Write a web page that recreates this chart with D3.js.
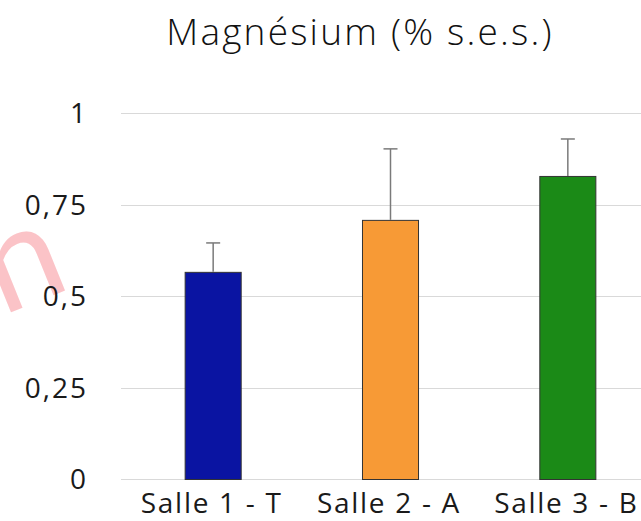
<!DOCTYPE html>
<html><head><meta charset="utf-8">
<script src="https://cdn.jsdelivr.net/npm/d3@7"></script>
<style>html,body{margin:0;padding:0;background:#fff;}svg{display:block;}</style>
</head><body>
<script>
const categories = ["Salle 1 - T", "Salle 2 - A", "Salle 3 - B"];
const values = [0.566, 0.708, 0.828];
const errors = [0.079, 0.194, 0.101];
const colors = ["#0A14A2", "#F79A36", "#1B8A17"];
const yTicks = [0, 0.25, 0.5, 0.75, 1];
const yTickLabels = ["0", "0,25", "0,5", "0,75", "1"];
const title = "Magnésium (% s.e.s.)";

const W = 641, H = 521;
const svg = d3.select("body").append("svg").attr("width", W).attr("height", H);

const y = d3.scaleLinear().domain([0, 1]).range([479, 113]);
const x = d3.scaleBand().domain(categories).range([124, 656]).paddingInner(0.684).paddingOuter(0.342);

// watermark fragment
svg.append("text").attr("transform", "translate(2,316) rotate(-22)")
  .attr("font-family", "Lato, sans-serif").attr("font-size", 138).attr("font-weight", 400)
  .attr("fill", "#fbc3c7").text("n");

// gridlines
svg.append("g").selectAll("line").data(yTicks).join("line")
  .attr("x1", 121).attr("x2", W).attr("y1", d => Math.round(y(d)) + 0.5).attr("y2", d => Math.round(y(d)) + 0.5)
  .attr("stroke", "#d9d9d9").attr("stroke-width", 1);

// y labels
svg.append("g").selectAll("text").data(yTicks).join("text")
  .attr("x", 88).attr("y", d => y(d) + 10).attr("text-anchor", "end")
  .attr("font-family", "Open Sans, sans-serif").attr("font-size", 28).attr("letter-spacing", 2).attr("fill", "#1a1a1a")
  .text((d, i) => yTickLabels[i]);

// bars
svg.append("g").selectAll("rect").data(values).join("rect")
  .attr("x", (d, i) => x(categories[i]) + 0.5).attr("width", x.bandwidth())
  .attr("y", d => y(d) + 0.5).attr("height", d => y(0) - y(d))
  .attr("fill", (d, i) => colors[i]).attr("stroke", "#333").attr("stroke-width", 1);

// error bars
const eg = svg.append("g").attr("stroke", "#7a7a7a").attr("stroke-width", 1.5);
values.forEach((v, i) => {
  const cx = x(categories[i]) + x.bandwidth() / 2 + 0.5;
  eg.append("line").attr("x1", cx).attr("x2", cx).attr("y1", y(v)).attr("y2", y(v + errors[i]));
  eg.append("line").attr("x1", cx - 7).attr("x2", cx + 7).attr("y1", y(v + errors[i])).attr("y2", y(v + errors[i]));
});

// x labels
svg.append("g").selectAll("text").data(categories).join("text")
  .attr("x", d => x(d) + x.bandwidth() / 2 - 1).attr("y", 513).attr("text-anchor", "middle")
  .attr("font-family", "Open Sans, sans-serif").attr("font-size", 28).attr("letter-spacing", 1.7).attr("fill", "#1a1a1a")
  .text(d => d);

// title
svg.append("text").attr("x", 360).attr("y", 45).attr("text-anchor", "middle")
  .attr("font-family", "Open Sans, sans-serif").attr("font-size", 37).attr("font-weight", 300)
  .attr("letter-spacing", 2.2).attr("fill", "#111")
  .text(title);
</script>
</body></html>
